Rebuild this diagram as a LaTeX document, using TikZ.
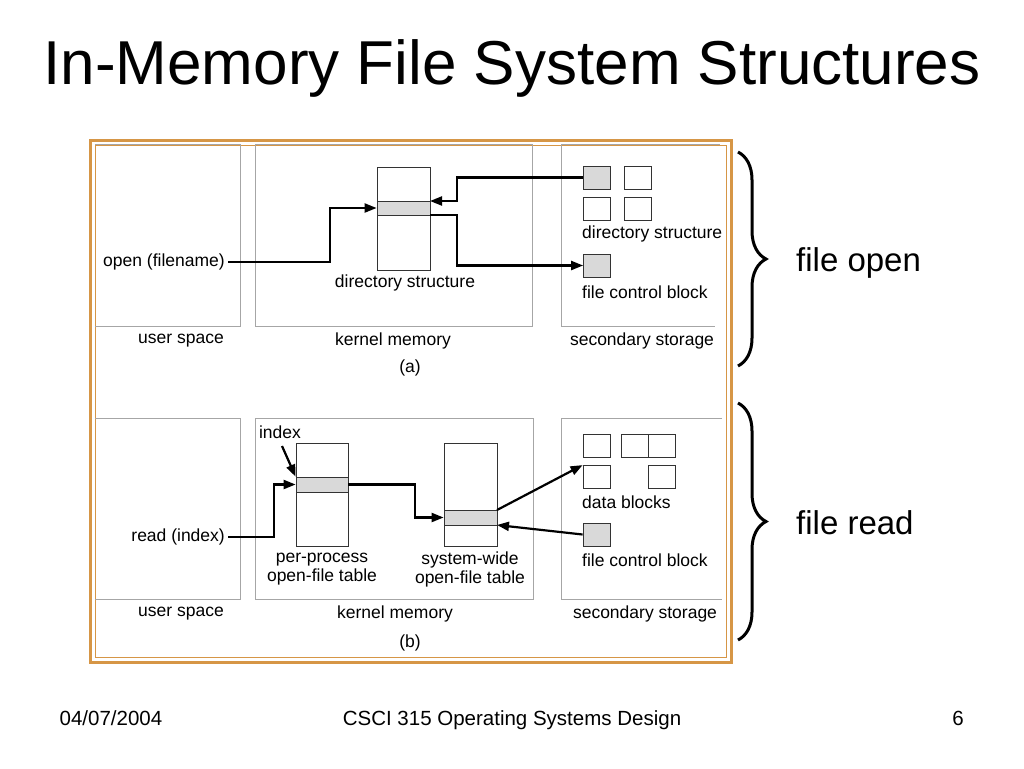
\documentclass[tikz,border=0pt]{standalone}
\usepackage{fontspec}
\setmainfont{Liberation Sans}
\usetikzlibrary{decorations.pathreplacing,arrows.meta}
\begin{document}
\begin{tikzpicture}[x=1pt,y=-1pt,
  box/.style={draw=gray!70,line width=1pt,inner sep=0pt},
  col/.style={draw=black!80,line width=0.8pt,fill=white,inner sep=0pt},
  bar/.style={draw=black!80,line width=0.8pt,fill=gray!30,inner sep=0pt},
  sq/.style={draw=black!80,line width=0.8pt,fill=white,minimum width=27pt,minimum height=23pt,inner sep=0pt},
  gsq/.style={sq,fill=gray!30},
  lbl/.style={font=\fontsize{17.5}{19}\selectfont,inner sep=0pt},
  arr/.style={line width=2.2pt,-{Triangle[length=12pt,width=9pt]}},
  brc/.style={decorate,decoration={brace,amplitude=28pt},line width=3pt},
  big/.style={font=\fontsize{33}{38}\selectfont,inner sep=0pt},
  foot/.style={inner sep=0pt,font=\fontsize{20.5}{23}\selectfont,anchor=base}]
\useasboundingbox (0,0) rectangle (1024,768);
\node[inner sep=0pt,font=\fontsize{62}{70}\selectfont] (title) at (512,68) {In-Memory File System Structures};
% frame
\draw[draw={rgb,255:red,214;green,150;blue,70},line width=3pt] (90,140) rectangle (731,662);
\draw[draw={rgb,255:red,214;green,150;blue,70},line width=0.8pt] (95,145) rectangle (726,657);
% ---- (a)
\draw[box] (95,144) -- (240,144) -- (240,326) -- (95,326);
\draw[box] (255,144) rectangle (532,326);
\draw[box] (720,144) -- (561,144) -- (561,326) -- (715,326);
\node[col,minimum width=53pt,minimum height=103pt] (dcol) at (403.5,218.5) {};
\node[bar,minimum width=53pt,minimum height=14pt] (dbar) at (403.5,208) {};
\node[gsq] (s1) at (597,177.5) {};
\node[sq] (s2) at (638,177.5) {};
\node[sq] (s3) at (597,208.5) {};
\node[sq] (s4) at (638,208.5) {};
\node[gsq] (fcba) at (597,265.5) {};
\node[lbl,anchor=east] (open) at (225,262) {open (filename)};
\node[lbl] (ds1) at (405,283) {directory structure};
\node[lbl,anchor=west] (ds2) at (582,234) {directory structure};
\node[lbl,anchor=west] (fcbla) at (582,292) {file control block};
\node[lbl] (usa) at (181,341) {user space};
\node[lbl] (kma) at (393,341) {kernel memory};
\node[lbl] (ssa) at (642,341) {secondary storage};
\node[lbl] (pa) at (410,368) {(a)};
\draw[arr] (open.east) ++(3,0) -- (330,262) -- (330,208) -- (dbar.west);
\draw[arr] (s1.west) -- (457,177.5) -- (457,201) -- (430,201);
\draw[arr] (430,215) -- (457,215) -- (457,265.5) -- (fcba.west);
% ---- (b)
\draw[box] (95,418) -- (240,418) -- (240,599) -- (95,599);
\draw[box] (255,418) rectangle (533,599);
\draw[box] (722,418) -- (561,418) -- (561,599) -- (722,599);
\node[col,minimum width=52pt,minimum height=103pt] (pcol) at (322,494.5) {};
\node[bar,minimum width=52pt,minimum height=15pt] (pbar) at (322,484.5) {};
\node[col,minimum width=53pt,minimum height=103pt] (scol) at (470.5,494.5) {};
\node[bar,minimum width=53pt,minimum height=15pt] (sbar) at (470.5,517.5) {};
\node[sq] (d1) at (596.5,445.5) {};
\node[sq] (d2) at (634.5,445.5) {};
\node[sq] (d3) at (662,445.5) {};
\node[sq] (d4) at (596.5,477) {};
\node[sq] (d5) at (662,477) {};
\node[gsq] (fcbb) at (596.5,534.5) {};
\node[lbl] (idx) at (280,432) {index};
\coordinate (idxs) at (282,446);
\node[lbl,anchor=east] (read) at (225,537) {read (index)};
\node[lbl,align=center] (ppt) at (322,569) {per-process\\open-file table};
\node[lbl,align=center] (swt) at (470,569) {system-wide\\open-file table};
\node[lbl,anchor=west] (dbl) at (582,502) {data blocks};
\node[lbl,anchor=west] (fcblb) at (582,560) {file control block};
\node[lbl] (usb) at (181,614) {user space};
\node[lbl] (kmb) at (395,614) {kernel memory};
\node[lbl] (ssb) at (645,614) {secondary storage};
\node[lbl] (pb) at (410,643) {(b)};
\draw[arr] (idxs) -- (pbar.north west);
\draw[arr] (read.east) ++(3,0) -- (274,537) -- (274,484.5) -- (pbar.west);
\draw[arr] (pbar.east) -- (415,484.5) -- (415,517.5) -- (sbar.west);
\draw[arr] (497,510) -- (d4.north west);
\draw[arr] (fcbb.west) -- (497,525);
% braces
\draw[brc] (738,152) -- (738,366);
\draw[brc] (738,403) -- (738,640);
\node[big,anchor=west] (fo) at (796,263) {file open};
\node[big,anchor=west] (fr) at (796,523) {file read};
% footer
\node[foot] (date) at (111,725) {04/07/2004};
\node[foot] (course) at (512,725) {CSCI 315 Operating Systems Design};
\node[foot] (pg) at (958,725) {6};
\end{tikzpicture}
\end{document}
